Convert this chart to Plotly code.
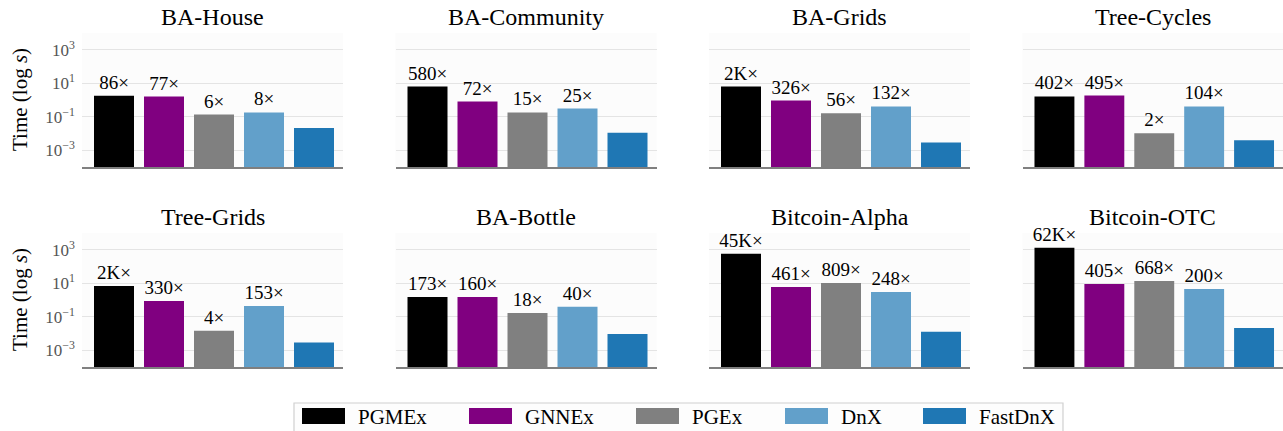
import plotly.graph_objects as go

datasets = ["BA-House", "BA-Community", "BA-Grids", "Tree-Cycles",
            "Tree-Grids", "BA-Bottle", "Bitcoin-Alpha", "Bitcoin-OTC"]
methods = ["PGMEx", "GNNEx", "PGEx", "DnX", "FastDnX"]
colors = ["#000000", "#800080", "#808080", "#62a0ca", "#1f77b4"]

# Time in seconds, per dataset, order follows `methods`
times = {
    "BA-House":      [1.8, 1.6, 0.135, 0.18, 0.021],
    "BA-Community":  [6.4, 0.80, 0.18, 0.31, 0.011],
    "BA-Grids":      [6.3, 0.93, 0.16, 0.41, 0.0029],
    "Tree-Cycles":   [1.62, 1.85, 0.0105, 0.41, 0.0039],
    "Tree-Grids":    [6.9, 0.87, 0.0146, 0.44, 0.0029],
    "BA-Bottle":     [1.52, 1.5, 0.17, 0.40, 0.0092],
    "Bitcoin-Alpha": [575, 6.0, 10.4, 3.0, 0.0127],
    "Bitcoin-OTC":   [1300, 9.0, 13.8, 4.5, 0.021],
}
# Speed-up of FastDnX over each baseline (labels above the baseline bars)
speedups = {
    "BA-House":      ["86×", "77×", "6×", "8×"],
    "BA-Community":  ["580×", "72×", "15×", "25×"],
    "BA-Grids":      ["2K×", "326×", "56×", "132×"],
    "Tree-Cycles":   ["402×", "495×", "2×", "104×"],
    "Tree-Grids":    ["2K×", "330×", "4×", "153×"],
    "BA-Bottle":     ["173×", "160×", "18×", "40×"],
    "Bitcoin-Alpha": ["45K×", "461×", "809×", "248×"],
    "Bitcoin-OTC":   ["62K×", "405×", "668×", "200×"],
}
tick_vals = [1e-3, 1e-1, 1e1, 1e3]
tick_text = ["10<sup>−3</sup>", "10<sup>−1</sup>", "10<sup>1</sup>", "10<sup>3</sup>"]

W, H = 1283, 431
FONT = "Liberation Serif, Times New Roman, serif"

fig = go.Figure()
layout = dict(
    width=W, height=H,
    margin=dict(l=0, r=0, t=0, b=0),
    paper_bgcolor="white",
    plot_bgcolor="#fcfcfc",
    showlegend=False,
    font=dict(family=FONT, color="black"),
    barmode="overlay",
)

annotations = []
shapes = []

panel_w = 261
col_left = [82 + 313.5 * c for c in range(4)]
row_top = [33, 233]
row_bot = [167, 367]

for i, ds in enumerate(datasets):
    r, c = divmod(i, 4)
    ax = "" if i == 0 else str(i + 1)
    x0 = col_left[c] / W
    x1 = min(1.0, (col_left[c] + panel_w) / W)
    y0 = 1 - row_bot[r] / H
    y1 = 1 - row_top[r] / H
    n_lab = len(speedups[ds])
    # baselines, with speed-up labels
    fig.add_trace(go.Bar(
        x=methods[:n_lab], y=times[ds][:n_lab],
        marker=dict(color=colors[:n_lab], line=dict(width=0)),
        text=speedups[ds], textposition="outside",
        textfont=dict(family=FONT, size=19, color="black"),
        constraintext="none", cliponaxis=False,
        width=0.8,
        xaxis="x" + ax, yaxis="y" + ax,
        hoverinfo="skip",
    ))
    # FastDnX (reference, no label)
    fig.add_trace(go.Bar(
        x=methods[n_lab:], y=times[ds][n_lab:],
        marker=dict(color=colors[n_lab:], line=dict(width=0)),
        width=0.8,
        xaxis="x" + ax, yaxis="y" + ax,
        hoverinfo="skip",
    ))
    layout["xaxis" + ax] = dict(
        domain=[x0, x1], anchor="y" + ax,
        type="category", categoryorder="array", categoryarray=methods,
        range=[-0.64, 4.58],
        showticklabels=False, ticks="", showgrid=False,
        showline=True, linecolor="#7f7f7f", linewidth=1.5,
        zeroline=False, fixedrange=True,
    )
    layout["yaxis" + ax] = dict(
        domain=[y0, y1], anchor="x" + ax,
        type="log", range=[-4, 4],
        tickvals=tick_vals, ticktext=tick_text,
        showticklabels=(c == 0),
        tickfont=dict(family=FONT, size=17, color="#555555"),
        ticks="", ticklabelstandoff=6,
        showgrid=True, gridcolor="#e4e4e4", gridwidth=1.2,
        showline=False, zeroline=False, fixedrange=True,
    )
    annotations.append(dict(
        text=ds, xref="paper", yref="paper",
        x=(x0 + x1) / 2, y=1 - (row_top[r] - 16) / H,
        xanchor="center", yanchor="middle", showarrow=False,
        font=dict(family=FONT, size=24, color="black"),
    ))
    if c == 0:
        annotations.append(dict(
            text="Time (log <i>s</i>)", xref="paper", yref="paper",
            x=20 / W, y=1 - ((row_top[r] + row_bot[r]) / 2) / H,
            xanchor="center", yanchor="middle", textangle=-90,
            showarrow=False,
            font=dict(family=FONT, size=21, color="black"),
        ))

# Legend (drawn manually to reproduce the wide swatches)
shapes.append(dict(
    type="rect", xref="paper", yref="paper",
    x0=294 / W, x1=1063 / W, y0=1 - 445 / H, y1=1 - 403 / H,
    line=dict(color="#d0d0d0", width=1.2), fillcolor="#fdfdfd", layer="above",
))
swatch_left = [302, 469, 636, 785, 923]
for m, col, sx in zip(methods, colors, swatch_left):
    shapes.append(dict(
        type="rect", xref="paper", yref="paper",
        x0=sx / W, x1=(sx + 43) / W, y0=1 - 424 / H, y1=1 - 408 / H,
        line=dict(width=0), fillcolor=col, layer="above",
    ))
    annotations.append(dict(
        text=m, xref="paper", yref="paper",
        x=(sx + 54) / W, y=1 - 417 / H,
        xanchor="left", yanchor="middle", showarrow=False,
        font=dict(family=FONT, size=21, color="black"),
    ))

layout["annotations"] = annotations
layout["shapes"] = shapes
fig.update_layout(**layout)
fig.write_html(
    "out.html",
    config={"displayModeBar": False, "staticPlot": True},
    post_script="document.body.style.margin='0';document.body.style.padding='0';"
                "document.body.style.overflow='hidden';",
)
